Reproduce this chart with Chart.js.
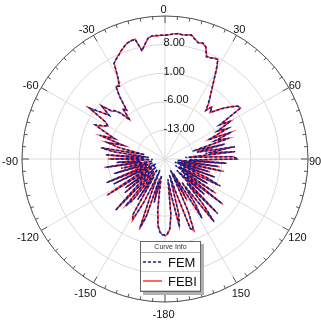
<!DOCTYPE html>
<html><head><meta charset="utf-8">
<script src="https://cdn.jsdelivr.net/npm/chart.js@4.4.1/dist/chart.umd.min.js"></script>
<style>
html,body{margin:0;padding:0;background:#fff;}
#wrap{position:relative;width:321px;height:321px;overflow:hidden;}
canvas{position:absolute;left:0;top:0;}
#legend{position:absolute;left:140px;top:241px;width:59px;height:49px;background:#fff;border:1px solid #666;box-shadow:3px 3px 0 #b0b0b0;font-family:"Liberation Sans",Arial,sans-serif;}
#legend .hd{height:10px;line-height:10px;font-size:7px;text-align:center;color:#333;border-bottom:1px solid #aaa;}
#legend .row{height:18px;position:relative;border-bottom:1px solid #ccc;}
#legend .row svg{position:absolute;left:2px;top:7px;}
#legend .row span{position:absolute;left:27px;top:2px;font-size:13px;line-height:15px;color:#111;}
</style></head><body>
<div id="wrap">
<canvas id="c" width="321" height="321"></canvas>
<div id="legend">
 <div class="hd">Curve Info</div>
 <div class="row"><svg width="20" height="4"><line x1="0" y1="2" x2="19" y2="2" stroke="#1c1c82" stroke-width="1.5" stroke-dasharray="3,2"/></svg><span>FEM</span></div>
 <div class="row"><svg width="20" height="4"><line x1="0" y1="2" x2="19" y2="2" stroke="#ff3333" stroke-width="1.5"/></svg><span>FEBI</span></div>
</div>
</div>
<script>
// angle categories (degrees, clockwise from top), 2-degree steps
const angles = [];
for (let a = 0; a < 360; a += 2) angles.push(a);

// FEM gain (dB): right half 0..180, left half -178..-2
const femRight = [
 10.3,10.5,10.7,10.8,10.7,10.8,11.0,10.2,9.6,9.9,
 9.2,7.0,7.1,7.4,7.6,5.0,2.5,0.4,-1.2,-2.8,
 -4.5,-2.8,-4.0,-3.2,-1.7,-0.5,0.8,2.0,2.2,-4.2,
 -1.3,-5.5,-3.0,-8.5,-2.5,-7.0,-3.5,-13,-4.9,-12,
 -2.6,-10,-2.7,-15,-3.6,-2.1,-14,-4.9,-17,-7,
 -16,-5.8,-17,-9,-17.5,-7,-16,-9,-4.9,-16,
 -8,-17,-5.5,-15,-2.4,-14,-7,-16,-1.4,-12,
 -5,-0.5,-13,-7,-2.9,-16,-9,-17,-6,-1.4,
 -1.8,-12,-16,-6,-3.0,-11,-15,-6,-3.0,-1.8,
 -1.4];
const femLeft = [
 -1.5,-2.0,-3.5,-7,-13,-16,-9,-15,-5,-2.2,
 -12,-17,-8,-3.5,-4.0,-15,-8,-17,-7,-5.0,
 -16,-2.5,-10,-17,-7,-15,-8,-17,-3.6,-12,
 -17.5,-6,-16,-4.5,-14,-17,-7,-15.5,-9,-17,
 -5.6,-14,-8,-17,-6.5,-15,-5.3,-16,-7,-4.3,
 -15,-8,-5.6,-9,-3.0,-6.8,-4.0,-1.0,-2.5,-4.0,
 -2.5,2.2,-0.3,-2.7,0.1,-2.3,-2.9,-4.5,-7.2,-3.9,
 -4.8,-1.0,1.5,1.0,3.0,6.6,7.2,7.8,8.6,9.3,
 9.8,10.1,10.2,7.0,8.5,9.8,10.3,10.3,10.3];

// FEBI gain (dB)
const febiRight = [
 10.3,10.4,10.7,10.9,10.7,10.8,11.1,10.3,9.6,9.8,
 9.2,7.2,7.1,7.5,7.6,5.2,2.5,0.5,-1.2,-2.6,
 -4.3,-2.9,-4.2,-3.1,-1.6,-0.4,0.9,2.1,2.3,-4.0,
 -1.5,-5.3,-3.2,-8.0,-2.7,-6.5,-3.8,-12,-5.2,-12,
 -2.9,-9,-3.0,-14,-3.3,-2.4,-13,-5.3,-16,-6.5,
 -15,-5.2,-16,-8.5,-16,-7.5,-15,-8.5,-5.5,-15,
 -8.5,-16,-5.0,-14,-2.0,-13,-7.5,-15,-1.8,-11,
 -5.5,-0.9,-12,-6.5,-3.3,-15,-8.5,-16,-6.5,-1.0,
 -2.1,-11,-15,-6.5,-3.6,-10,-14,-6.5,-2.8,-1.6,
 -1.2];
const febiLeft = [
 -1.4,-2.2,-3.8,-7.5,-12,-15,-9.5,-14,-5.5,-1.6,
 -11,-16,-8.5,-3.0,-4.4,-14,-8.5,-16,-7.5,-5.4,
 -15,-2.9,-10.5,-16,-7.5,-14,-8.5,-16,-3.2,-11,
 -16.5,-6.5,-15,-5.0,-13,-16,-7.5,-14.5,-9.5,-16,
 -5.0,-13,-8.5,-16,-6.0,-14,-5.8,-15,-7.5,-4.0,
 -14,-8.5,-5.2,-9.5,-3.4,-6.5,-4.3,-1.3,-2.8,-3.8,
 -2.8,2.5,-0.6,-2.5,0.3,-2.5,-3.1,-4.3,-6.9,-4.1,
 -4.6,-1.2,1.4,1.2,3.2,6.5,7.3,7.9,8.6,9.2,
 9.9,10.1,10.2,7.2,8.4,9.9,10.3,10.2,10.3];

// axis labelling
const angleTicks = [0,30,60,90,120,150,180,210,240,270,300,330];
const angleTickText = ['0','30','60','90','120','150','-180','-150','-120','-90','-60','-30'];
const radialTicks = [8, 1, -6, -13];
const rMin = -20, rMax = 15, rStep = 7;

const femData = femRight.concat(femLeft);
const febiData = febiRight.concat(febiLeft);
const labels = angles.map(a => (a >= 180 ? a - 360 : a).toString());

const FONT = '"Liberation Sans", Arial, sans-serif';

const decor = {
  id: 'decor',
  beforeDatasetsDraw(chart) {
    const s = chart.scales.r, ctx = chart.ctx;
    const R = s.drawingArea, cx = s.xCenter, cy = s.yCenter;
    ctx.save();
    ctx.strokeStyle = '#555';
    ctx.lineWidth = 1;
    ctx.beginPath();
    ctx.arc(cx, cy, R, 0, Math.PI * 2);
    ctx.stroke();
    for (let d = 0; d < 360; d += 5) {
      const len = d % 30 === 0 ? 7 : 3.5;
      const t = d * Math.PI / 180;
      const ux = Math.sin(t), uy = -Math.cos(t);
      ctx.beginPath();
      ctx.moveTo(cx + ux * R, cy + uy * R);
      ctx.lineTo(cx + ux * (R - len), cy + uy * (R - len));
      ctx.stroke();
    }
    ctx.restore();
  },
  afterDatasetsDraw(chart) {
    const s = chart.scales.r, ctx = chart.ctx;
    const R = s.drawingArea, cx = s.xCenter, cy = s.yCenter;
    ctx.save();
    ctx.font = '11px ' + FONT;
    ctx.fillStyle = '#111';
    // radial tick labels
    ctx.textAlign = 'left';
    ctx.textBaseline = 'middle';
    radialTicks.forEach(v => {
      const d = s.getDistanceFromCenterForValue(v);
      ctx.fillText(v.toFixed(2), cx - 1.5, cy - d - 1.5);
    });
    // angle labels
    ctx.textAlign = 'center';
    angleTicks.forEach((a, i) => {
      const idx = angles.indexOf(a);
      const t = a * Math.PI / 180;
      const txt = angleTickText[i];
      const w = ctx.measureText(txt).width;
      const p = s.getPointPosition(idx, R + 2.5);
      const x = p.x + Math.sin(t) * w / 2 - 1.5;
      const y = p.y - Math.cos(t) * 6.75 + 3.25;
      ctx.fillText(txt, x, y);
    });
    ctx.restore();
  }
};

new Chart(document.getElementById('c'), {
  type: 'radar',
  data: {
    labels: labels,
    datasets: [
      { label: 'FEM', data: femData, borderColor: '#1c1c82', borderWidth: 1.5,
        borderDash: [3, 2], pointRadius: 0, fill: false, tension: 0 },
      { label: 'FEBI', data: febiData, borderColor: '#ff3333', borderWidth: 1.5,
        pointRadius: 0, fill: false, tension: 0 }
    ]
  },
  options: {
    responsive: false,
    animation: false,
    devicePixelRatio: 1,
    layout: { padding: { left: 22, right: 13, top: 16, bottom: 19 } },
    plugins: { legend: { display: false }, tooltip: { enabled: false } },
    scales: {
      r: {
        min: rMin, max: rMax,
        ticks: { display: false, stepSize: rStep },
        pointLabels: { display: false },
        grid: { circular: true, color: '#d9d9d9', lineWidth: 1 },
        angleLines: {
          color: '#dcdcdc',
          lineWidth: ctx => (angles[ctx.index] % 30 === 0 ? 1 : 0)
        }
      }
    }
  },
  plugins: [decor]
});
</script>
</body></html>
